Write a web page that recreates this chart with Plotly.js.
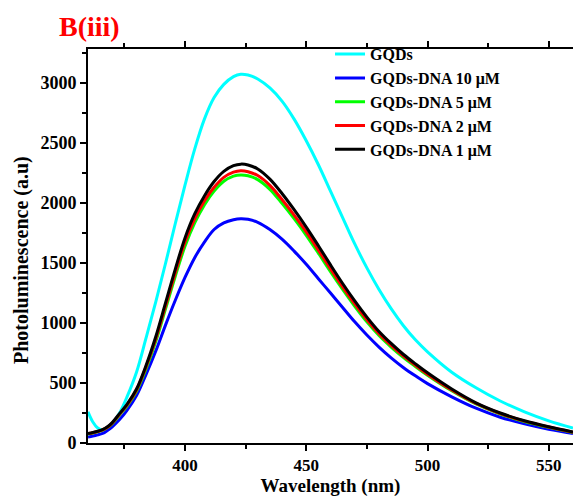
<!DOCTYPE html>
<html>
<head>
<meta charset="utf-8">
<script src="https://cdn.plot.ly/plotly-3.0.1.min.js"></script>
<style>html,body{margin:0;padding:0;background:#fff;}#chart{width:573px;height:497px;}</style>
</head>
<body>
<div id="chart"></div>
<script>
const wavelength = [360,362,364,366,368,370,373,376,380,384,388,392,396,400,404,408,412,416,420,423,426,430,435,440,445,450,455,460,465,470,475,480,485,490,495,500,510,520,530,540,550,560];
const gqds  = [260,175,125,108,122,160,250,380,590,880,1180,1500,1830,2150,2450,2700,2880,2990,3055,3075,3068,3035,2960,2850,2700,2520,2320,2100,1880,1660,1460,1280,1120,980,860,760,590,460,350,260,185,125];
const dna10 = [50,58,68,80,105,135,195,270,395,575,770,985,1190,1380,1545,1675,1780,1835,1862,1870,1865,1840,1780,1700,1600,1490,1370,1250,1130,1010,900,800,710,630,560,495,385,290,215,160,115,80];
const dna5  = [75,83,93,107,129,162,234,306,432,622,850,1120,1390,1640,1835,1985,2100,2182,2225,2235,2228,2196,2115,1998,1870,1732,1582,1428,1280,1140,1010,896,800,714,638,565,435,325,242,179,130,88];
const dna2  = [78,86,96,110,132,166,240,314,442,638,870,1145,1420,1675,1868,2018,2132,2215,2258,2270,2262,2230,2148,2030,1900,1760,1608,1452,1302,1160,1028,912,814,726,648,574,442,330,246,182,133,90];
const dna1  = [80,88,98,112,135,170,245,320,450,650,890,1170,1450,1710,1910,2060,2180,2265,2312,2325,2318,2285,2200,2080,1945,1800,1645,1485,1330,1185,1050,930,830,740,660,585,450,335,250,185,135,92];

const names = ['GQDs','GQDs-DNA 10 \u03BCM','GQDs-DNA 5 \u03BCM','GQDs-DNA 2 \u03BCM','GQDs-DNA 1 \u03BCM'];
const colors = ['#00FFFF','#0000FF','#00FF00','#FF0000','#000000'];
const series = [gqds, dna10, dna5, dna2, dna1];

const traces = series.map((s, i) => ({
  x: wavelength, y: s, type: 'scatter', mode: 'lines', name: names[i],
  line: {color: colors[i], width: 3, shape: 'spline', smoothing: 1}
}));

const font = {family: '"Liberation Serif", "Times New Roman", serif', color: '#000'};
const layout = {
  width: 573, height: 497,
  margin: {l: 88, r: 0, t: 49, b: 54},
  paper_bgcolor: '#fff', plot_bgcolor: '#fff',
  showlegend: true,
  legend: {x: 0.499, y: 1.03, xanchor: 'left', yanchor: 'top', bgcolor: 'rgba(0,0,0,0)',
    font: Object.assign({}, font, {size: 16, weight: 'bold'}), tracegroupgap: 0, itemwidth: 30},
  xaxis: {
    range: [360, 560], showgrid: false, zeroline: false,
    showline: true, linecolor: '#000', linewidth: 2, mirror: 'ticks',
    ticks: 'outside', ticklen: 6, tickwidth: 2, tickcolor: '#000',
    tick0: 400, dtick: 50,
    minor: {dtick: 25, tick0: 400, ticks: 'outside', ticklen: 4, tickwidth: 2, tickcolor: '#000'},
    tickfont: Object.assign({}, font, {size: 17, weight: 'bold'}),
    title: {text: 'Wavelength (nm)', font: Object.assign({}, font, {size: 19, weight: 'bold'}), standoff: 5}
  },
  yaxis: {
    range: [0, 3285], showgrid: false, zeroline: false,
    showline: true, linecolor: '#000', linewidth: 2, mirror: 'ticks',
    ticks: 'outside', ticklen: 6, tickwidth: 2, tickcolor: '#000',
    tick0: 0, dtick: 500,
    minor: {dtick: 250, tick0: 0, ticks: 'outside', ticklen: 4, tickwidth: 2, tickcolor: '#000'},
    tickfont: Object.assign({}, font, {size: 18, weight: 'bold'})
  },
  annotations: [{
    text: 'B(iii)', xref: 'paper', yref: 'paper', x: -0.064, y: 1.056,
    xanchor: 'left', yanchor: 'middle', showarrow: false,
    font: Object.assign({}, font, {size: 28, color: '#FF0000', weight: 'bold'})
  }, {
    text: 'Photoluminescence (a.u)', xref: 'paper', yref: 'paper', x: -0.136, y: 0.4645,
    xanchor: 'center', yanchor: 'middle', textangle: -90, showarrow: false,
    font: Object.assign({}, font, {size: 20, weight: 'bold'})
  }]
};

Plotly.newPlot('chart', traces, layout, {displayModeBar: false, staticPlot: true});
</script>
</body>
</html>
